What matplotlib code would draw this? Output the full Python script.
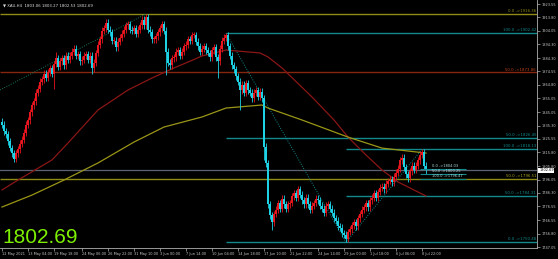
import matplotlib
matplotlib.use('Agg')
import matplotlib.pyplot as plt

# H4 closes left to right
closes = [
    1836, 1831, 1829, 1824, 1819, 1815, 1811, 1815, 1818, 1822,
    1825, 1830, 1836, 1839, 1845, 1850, 1853, 1859, 1862, 1867,
    1869, 1873, 1870, 1874, 1877, 1873, 1880, 1884, 1878, 1882,
    1884, 1879, 1886, 1883, 1886, 1889, 1891, 1886, 1887, 1882,
    1883, 1886, 1887, 1883, 1886, 1877, 1881, 1888, 1894, 1898,
    1904, 1906, 1910, 1905, 1903, 1897, 1897, 1892, 1896, 1899,
    1902, 1905, 1908, 1909, 1905, 1904, 1906, 1902, 1905, 1908,
    1912, 1908, 1914, 1905, 1903, 1898, 1898, 1900, 1903, 1906,
    1909, 1904, 1889, 1881, 1879, 1884, 1885, 1889, 1890, 1886,
    1889, 1893, 1894, 1898, 1897, 1901, 1901, 1896, 1893, 1889,
    1891, 1893, 1890, 1888, 1885, 1890, 1892, 1885, 1882, 1891,
    1897, 1899, 1901, 1893, 1886, 1879, 1876, 1871, 1867, 1861,
    1865, 1859, 1866, 1861, 1859, 1855, 1859, 1861, 1856, 1860,
    1855, 1820, 1808, 1778, 1770, 1765, 1771, 1774, 1779, 1775,
    1782, 1778, 1775, 1778, 1779, 1784, 1786, 1783, 1789, 1785,
    1781, 1778, 1783, 1778, 1774, 1777, 1779, 1782, 1781, 1777,
    1775, 1772, 1777, 1778, 1775, 1772, 1768, 1766, 1762, 1761,
    1757, 1756, 1753, 1758, 1760, 1763, 1765, 1762, 1768, 1771,
    1774, 1776, 1779, 1776, 1781, 1783, 1786, 1783, 1787, 1790,
    1791, 1789, 1793, 1795, 1796, 1794, 1798, 1801, 1804, 1810,
    1812, 1805, 1800, 1797, 1802, 1806, 1803, 1806, 1810, 1814,
    1816, 1806, 1802.69,
]
first_open = 1838.0

# bars with long shadows
long_high_idx = [27, 72, 112, 210]
long_high_val = [1889.0, 1916.36, 1902.42, 1818.13]
long_low_idx = [26, 45, 82, 108, 119, 131, 135, 172]
long_low_val = [1862.0, 1873.0, 1872.0, 1870.0, 1846.5, 1810.0, 1759.5, 1750.48]

# moving averages (bar index, price)
ma_red_idx = [0, 8, 25, 33, 48, 63, 75, 86, 93, 100, 112, 129, 133, 140, 155, 166, 173, 182, 190, 198, 212]
ma_red_val = [1788.5, 1795.7, 1810.3, 1822.6, 1846.6, 1861.1, 1869.8, 1877.1, 1881.4, 1885.8, 1890.1,
              1888.0, 1885.1, 1877.1, 1856.0, 1839.3, 1826.9, 1813.9, 1803.0, 1794.3, 1784.1]
ma_olive_idx = [0, 15, 31, 48, 66, 81, 100, 112, 130, 133, 150, 173, 190, 212]
ma_olive_val = [1776.1, 1784.8, 1795.7, 1808.1, 1823.3, 1834.2, 1841.5, 1848.0, 1850.2, 1848.0,
                1839.3, 1826.9, 1818.9, 1815.3]

# fibonacci levels
fib_levels = [1916.36, 1902.42, 1873.86, 1826.45, 1818.13, 1796.51, 1784.31, 1750.48]
fib_labels = ['0.0 ->1916.36', '100.0 ->1902.42', '50.0 ->1873.86', '50.0 ->1826.45',
              '100.0 ->1818.13', '50.0 ->1796.51', '50.0 ->1784.31', '0.0 ->1750.48']
small_fib_levels = [1804.03, 1800.25, 1796.47]
small_fib_labels = ['0.0 ->1804.03', '50.0 ->1800.25', '100.0 ->1796.47']

# trend (dotted) lines: (bar, price) pairs
trend_a = ([-1, 72], [1861.1, 1916.36])
trend_b = ([112, 172], [1902.42, 1750.48])
trend_c = ([172, 210], [1750.48, 1818.13])

last_price = 1802.69
header = '\u25bc XAU,H4  1803.06 1803.27 1802.53 1802.69'

price_ticks = [1923.55, 1913.80, 1904.05, 1894.30, 1884.30, 1874.55, 1864.80, 1855.05, 1845.05, 1835.30,
               1825.55, 1815.80, 1805.80, 1796.05, 1786.30, 1776.55, 1766.55, 1756.80, 1747.05]
time_tick_bars = [0, 13, 26, 40, 53, 66, 79, 92, 105, 118, 131, 144, 158, 171, 184, 197, 210]
time_tick_labels = ['12 May 2021', '13 May 04:00', '19 May 18:00', '24 May 06:00', '26 May 22:00',
                    '31 May 10:00', '3 Jun 00:00', '7 Jun 14:00', '10 Jun 04:00', '14 Jun 18:00',
                    '17 Jun 10:00', '21 Jun 22:00', '24 Jun 14:00', '29 Jun 00:00', '1 Jul 18:00',
                    '6 Jul 06:00', '8 Jul 22:00']

# ---- build OHLC ----
opens = [first_open] + closes[:-1]
highs = [max(o, c) + 2.5 for o, c in zip(opens, closes)]
lows = [min(o, c) - 2.5 for o, c in zip(opens, closes)]
for i, v in zip(long_high_idx, long_high_val):
    highs[i] = v
for i, v in zip(long_low_idx, long_low_val):
    lows[i] = v

BULL = '#e8141e'
BEAR = '#1ed2e6'
TEAL = '#12898c'
OLIVE = '#8e8c16'
BROWN = '#86260e'
TXT = '#c8c8c8'

fig = plt.figure(figsize=(5.58, 2.59), dpi=100, facecolor='black')
ax = fig.add_axes([0, 11 / 259, 537 / 558, 248 / 259], facecolor='black')
ax.set_xlim(-1, 267.5)
ax.set_ylim(1746.34, 1926.46)

# fib / horizontal lines
fib_start = [-1, 112, -1, 112, 172, -1, 172, 112]
fib_color = [OLIVE, TEAL, BROWN, TEAL, TEAL, OLIVE, TEAL, TEAL]
fib_txt = [OLIVE, TEAL, '#c4441a', TEAL, TEAL, '#a8a41a', TEAL, TEAL]
for lvl, lab, xs, col, tc in zip(fib_levels, fib_labels, fib_start, fib_color, fib_txt):
    ax.hlines(lvl, xs, 267.5, color=col, lw=1.0, zorder=1)
    ax.text(267, lvl + 0.6, lab, color=tc, fontsize=2.8, ha='right', va='bottom', zorder=5)

ax.axhline(last_price, color='#5c6272', lw=0.9, zorder=1)

for lvl, lab in zip(small_fib_levels, small_fib_labels):
    ax.hlines(lvl, 209, 232, color=TEAL, lw=0.8, zorder=4)
    ax.text(215, lvl + 0.4, lab, color='#b0e0e0', fontsize=2.6, ha='left', va='bottom', zorder=5)

for tl in (trend_a, trend_b, trend_c):
    ax.plot(tl[0], tl[1], color='#1a7a5a' if tl is trend_a else TEAL, lw=0.7,
            ls=(0, (1, 1.5)), zorder=2)

ax.plot(ma_red_idx, ma_red_val, color='#8a1616', lw=0.9, zorder=2)
ax.plot(ma_olive_idx, ma_olive_val, color='#9a9618', lw=0.9, zorder=2)

# candles
xs = list(range(len(closes)))
cols = [BULL if c >= o else BEAR for o, c in zip(opens, closes)]
ax.vlines(xs, lows, highs, colors=cols, lw=0.6, zorder=3)
bottoms = [min(o, c) for o, c in zip(opens, closes)]
heights = [max(abs(c - o), 0.6) for o, c in zip(opens, closes)]
ax.bar(xs, heights, bottom=bottoms, width=0.8, color=cols, lw=0, zorder=3)

# axes look
for s in ('top', 'left'):
    ax.spines[s].set_visible(False)
for s in ('right', 'bottom'):
    ax.spines[s].set_color('#b0b0b0')
    ax.spines[s].set_linewidth(0.6)
ax.yaxis.tick_right()
ax.set_yticks(price_ticks)
ax.set_yticklabels([f'{p:.2f}' for p in price_ticks])
ax.set_xticks(time_tick_bars)
ax.set_xticklabels(time_tick_labels, ha='left')
ax.tick_params(axis='both', colors='#b0b0b0', labelcolor=TXT, labelsize=2.5,
               length=2, width=0.5, pad=1)

ax.text(1.004, last_price, f'{last_price:.2f}', transform=ax.get_yaxis_transform(),
        fontsize=2.5, color='black', va='center', ha='left',
        bbox=dict(boxstyle='square,pad=0.2', fc='white', ec='none'), zorder=6, clip_on=False)

fig.text(0.006, 0.985, header, color='#e0e0e0', fontsize=2.8, va='top', ha='left')
ax.text(0.005, 0.02, f'{last_price:.2f}', transform=ax.transAxes, color='#7cf000',
        fontsize=15, family='Liberation Sans', ha='left', va='baseline', zorder=6)

fig.savefig('out.png', dpi=100, facecolor='black')
